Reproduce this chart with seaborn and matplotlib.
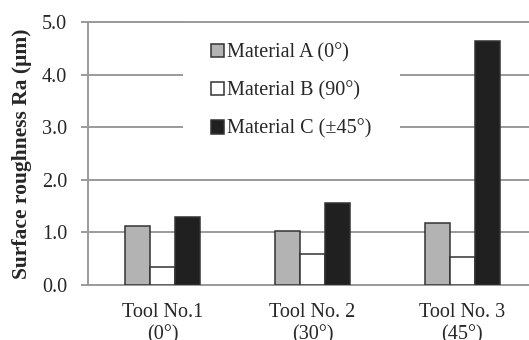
import matplotlib
matplotlib.use("Agg")
import matplotlib.pyplot as plt
import pandas as pd
import seaborn as sns

# Values
tools = ["Tool No.1\n(0°)", "Tool No. 2\n(30°)", "Tool No. 3\n(45°)"]
materials = ["Material A (0°)", "Material B (90°)", "Material C (±45°)"]
mat_a = [1.12, 1.03, 1.18]
mat_b = [0.34, 0.59, 0.53]
mat_c = [1.29, 1.56, 4.64]
colors = ["#b3b3b3", "#ffffff", "#202020"]

rows = []
for name, vals in zip(materials, [mat_a, mat_b, mat_c]):
    for tool, v in zip(tools, vals):
        rows.append({"tool": tool, "material": name, "ra": v})
df = pd.DataFrame(rows)

sns.set_style("white")
plt.rcParams["font.family"] = ["Liberation Serif", "DejaVu Serif"]
plt.rcParams["font.size"] = 14.5

grid_col = "#9a9a9a"

fig = plt.figure(figsize=(5.29, 3.4), dpi=100)
ax = fig.add_axes([88 / 529, 1 - 285 / 340, 449 / 529, 263 / 340])

sns.barplot(
    data=df,
    x="tool",
    y="ra",
    hue="material",
    hue_order=materials,
    palette=colors,
    width=0.5,
    gap=0,
    edgecolor="#333333",
    linewidth=1.1,
    saturation=1,
    ax=ax,
    zorder=3,
)

ax.set_ylim(0, 5)
ax.set_xlim(-0.5, 2.5)
ax.set_yticks([0, 1, 2, 3, 4, 5])
ax.set_yticklabels([f"{v:.1f}" for v in [0, 1, 2, 3, 4, 5]])
ax.set_xlabel("")
ax.set_ylabel("Surface roughness Ra (μm)", fontweight="bold", fontsize=15.5,
              labelpad=7)

ax.yaxis.grid(True, color=grid_col, linewidth=1.4, zorder=0)
ax.set_axisbelow(True)
ax.tick_params(axis="y", length=5, width=1.4, color=grid_col, pad=10,
               left=True, direction="out")
ax.tick_params(axis="x", length=0, pad=13)

for side in ["left", "bottom", "top"]:
    ax.spines[side].set_visible(True)
    ax.spines[side].set_color(grid_col)
    ax.spines[side].set_linewidth(1.4)
ax.spines["right"].set_visible(False)
ax.spines["top"].set_zorder(6)

handles, labels = ax.get_legend_handles_labels()
leg = ax.legend(
    handles, labels,
    loc="upper left",
    bbox_to_anchor=(183 / 529, 1 - 15 / 340),
    bbox_transform=fig.transFigure,
    borderaxespad=0,
    borderpad=1.4,
    handlelength=0.65,
    handleheight=0.65,
    handletextpad=0.15,
    labelspacing=0.93,
    frameon=True,
    fancybox=False,
    framealpha=1,
    facecolor="white",
    edgecolor="none",
    fontsize=14.5,
)
leg.set_zorder(5)

fig.savefig("out.png", dpi=100)
